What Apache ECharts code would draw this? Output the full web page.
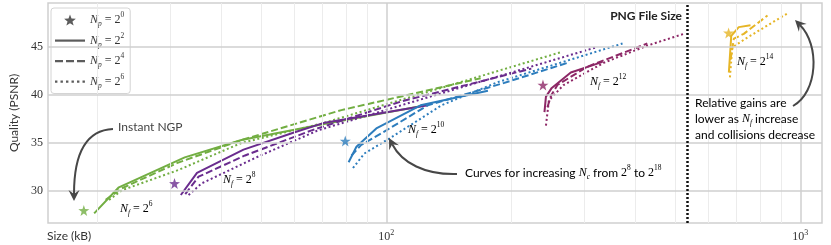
<!DOCTYPE html>
<html><head><meta charset="utf-8">
<script src="https://cdn.jsdelivr.net/npm/echarts@6/dist/echarts.min.js"></script>
<style>html,body{margin:0;padding:0;background:#fff}#c{width:831px;height:245px}</style>
</head><body><div id="c"></div>
<script>
// ---------------- data ----------------
const xTickValues = [100, 1000];
const yTickValues = [30, 35, 40, 45];
const xMinorGrid = [20, 30, 40, 50, 60, 70, 80, 90, 200, 300, 400, 500, 600, 700, 800, 900];
const pngFileSize = 533;
const nfExponents = [6, 8, 10, 12, 14];
const npExponents = [0, 2, 4, 6];

// Nf = 2^6
const nf6_np1  = [[18.6, 28.0]];
const nf6_np4  = [[19.7, 27.7], [22.6, 30.4], [32.6, 33.5], [44.7, 35.3], [69.7, 36.9], [121, 38.8]];
const nf6_np16 = [[21.0, 29.1], [23.0, 30.3], [31.2, 32.9], [44.7, 35.3], [77.9, 38.4], [169, 41.7]];
const nf6_np64 = [[21.4, 29.1], [23.0, 30.1], [31.5, 32.2], [44.7, 35.0], [69.7, 37.0], [264, 44.4]];
// Nf = 2^8
const nf8_np1  = [[30.8, 30.8]];
const nf8_np4  = [[31.9, 29.6], [34.9, 31.9], [45.2, 34.3], [60.1, 36.1], [71.0, 37.1], [126, 38.9]];
const nf8_np16 = [[32.7, 29.7], [35.2, 31.5], [45.6, 33.7], [66.0, 36.3], [108.7, 39.3], [224, 42.7]];
const nf8_np64 = [[33.3, 29.6], [35.8, 30.8], [49.1, 33.6], [68.4, 36.3], [121, 39.5], [321, 44.9]];
// Nf = 2^10
const nf10_np1  = [[79.6, 35.2]];
const nf10_np4  = [[81.1, 33.0], [84.7, 34.6], [94.6, 36.5], [121, 38.9], [176, 40.4]];
const nf10_np16 = [[82.4, 33.7], [87.0, 34.8], [100, 36.3], [126, 38.9], [192, 41.2], [274, 43.3]];
const nf10_np64 = [[83.1, 32.4], [88.5, 33.9], [103, 35.6], [136, 38.9], [186, 41.3], [372, 45.3]];
// Nf = 2^12
const nf12_np1  = [[239, 41.0]];
const nf12_np4  = [[241, 38.2], [243, 39.8], [251, 40.7], [279, 42.3], [333, 43.4]];
const nf12_np16 = [[245, 38.7], [250, 39.9], [259, 41.0], [306, 42.9], [427, 45.3]];
const nf12_np64 = [[243, 36.8], [247, 39.4], [268, 41.0], [335, 43.3], [428, 45.1], [523, 46.3]];
// Nf = 2^14
const nf14_np1  = [[671, 46.4]];
const nf14_np4  = [[672, 42.3], [681, 46.1], [710, 47.0], [758, 47.2]];
const nf14_np16 = [[678, 43.6], [691, 45.8], [730, 46.3], [833, 48.2]];
const nf14_np64 = [[676, 41.8], [685, 44.9], [737, 45.8], [929, 48.4]];

// ---------------- styles ----------------
const COLORS = ['#72ae42', '#6a2c8e', '#2d7dbd', '#8d2766', '#e6b526'];
const groups = [
  [nf6_np1, nf6_np4, nf6_np16, nf6_np64],
  [nf8_np1, nf8_np4, nf8_np16, nf8_np64],
  [nf10_np1, nf10_np4, nf10_np16, nf10_np64],
  [nf12_np1, nf12_np4, nf12_np16, nf12_np64],
  [nf14_np1, nf14_np4, nf14_np16, nf14_np64]
];
const LINE_TYPES = ['solid', [7, 3], [2, 2.6]];
const STAR = 'path://M50 0 L61.8 35.1 L98.6 35.5 L69 57.6 L79.4 92.7 L50 71.5 L20.6 92.7 L31 57.6 L1.4 35.5 L38.2 35.1 Z';
const SERIF = 'Liberation Serif';
const SANS = 'Lato';

// legend icons drawn in a 30x12 box
function starIcon() {
  let d = 'path://M0 0 M30 12 ';
  for (let i = 0; i < 10; i++) {
    const a = (-90 + i * 36) * Math.PI / 180, r = i % 2 ? 2.6 : 6.2;
    d += (i ? 'L' : 'M') + (15 + r * Math.cos(a)).toFixed(2) + ' ' + (6.6 + r * Math.sin(a)).toFixed(2) + ' ';
  }
  return d + 'Z';
}
function barIcon(segs) {
  let d = 'path://M0 0 M30 12 ';
  segs.forEach(s => { d += 'M' + s[0] + ' 5 h' + s[1] + ' v2.2 h-' + s[1] + ' Z '; });
  return d;
}
const LEGEND_ICONS = [
  starIcon(),
  barIcon([[0, 30]]),
  barIcon([[0, 8], [11, 8], [22, 8]]),
  barIcon([[0, 2.4], [5.5, 2.4], [11, 2.4], [16.5, 2.4], [22, 2.4], [27.5, 2.4]])
];

function mathRich(color, size) {
  size = size || 12;
  return {
    n: { fontFamily: SERIF, fontStyle: 'italic', fontSize: size, color: color, lineHeight: 16 },
    s: { fontFamily: SERIF, fontStyle: 'italic', fontSize: size * 0.62, color: color, verticalAlign: 'bottom' },
    e: { fontFamily: SERIF, fontSize: size, color: color, lineHeight: 16 },
    p: { fontFamily: SERIF, fontSize: size * 0.62, color: color, verticalAlign: 'top' },
    t: { fontFamily: SANS, fontSize: size, color: color, lineHeight: 16 }
  };
}

const series = [];
// grid lines (drawn through the axes)
series.push({
  type: 'line', data: [[100, 40]], symbol: 'none', lineStyle: { opacity: 0 }, silent: true, z: 1,
  markLine: {
    silent: true, symbol: 'none', animation: false, label: { show: false },
    data: xMinorGrid.map(v => ({ xAxis: v, lineStyle: { color: '#ececec', width: 1, type: 'solid' } }))
      .concat(xTickValues.map(v => ({ xAxis: v, lineStyle: { color: '#cfcfcf', width: 1.5, type: 'solid' } })))
      .concat(yTickValues.map(v => ({ yAxis: v, lineStyle: { color: '#cfcfcf', width: 1.5, type: 'solid' } })))
  }
});
// PNG file size line
series.push({
  type: 'line', data: [[100, 40]], symbol: 'none', lineStyle: { opacity: 0 }, silent: true, z: 2,
  markLine: {
    silent: true, symbol: 'none', animation: false, label: { show: false },
    data: [{ xAxis: pngFileSize, lineStyle: { color: '#111', width: 2.5, type: [2, 2] } }]
  }
});

groups.forEach((g, gi) => {
  const c = COLORS[gi];
  series.push({
    type: 'scatter', data: g[0], symbol: STAR, symbolSize: 11, itemStyle: { color: c }, z: 5, silent: true
  });
  for (let k = 1; k < 4; k++) {
    series.push({
      type: 'line', data: g[k], symbol: 'none', z: 3, silent: true,
      lineStyle: { color: c, width: 2, type: LINE_TYPES[k - 1] }, itemStyle: { color: c }
    });
  }
});

// legend proxies
const legendNames = npExponents.map(e => 'np' + e);
legendNames.forEach(n => {
  series.push({ name: n, type: 'scatter', data: [], itemStyle: { color: '#333' } });
});

// ---------------- annotations ----------------
function arrow(x1, y1, c1x, c1y, c2x, c2y, tx, ty) {
  const dx = tx - c2x, dy = ty - c2y, L = Math.hypot(dx, dy);
  const ux = dx / L, uy = dy / L, px = -uy, py = ux;
  const len = 11, hw = 5.5, notch = 7;
  const ex = tx - ux * notch, ey = ty - uy * notch;
  return [
    { type: 'bezierCurve', shape: { x1: x1, y1: y1, cpx1: c1x, cpy1: c1y, cpx2: c2x, cpy2: c2y, x2: ex, y2: ey },
      style: { stroke: '#474747', lineWidth: 2, fill: null }, z: 20 },
    { type: 'polygon', shape: { points: [[tx, ty], [tx - ux * len + px * hw, ty - uy * len + py * hw], [ex, ey], [tx - ux * len - px * hw, ty - uy * len - py * hw]] },
      style: { fill: '#474747' }, z: 21 }
  ];
}
const labelPos = [[120, 209], [223, 180], [408, 130], [590, 82], [737, 62]];
const graphic = [];
nfExponents.forEach((e, i) => {
  graphic.push({ type: 'text', x: labelPos[i][0], y: labelPos[i][1], z: 20,
    style: { text: '{n|N}{s|f}{e| = 2}{p|' + e + '}', rich: mathRich(COLORS[i]), textVerticalAlign: 'middle' } });
});
graphic.push({ type: 'text', x: 118, y: 127, z: 20,
  style: { text: 'Instant NGP', fontFamily: SANS, fontSize: 12, fill: '#444', textVerticalAlign: 'middle' } });
graphic.push({ type: 'text', x: 465, y: 173, z: 20,
  style: { text: '{t|Curves for increasing }{n|N}{s|c}{t| from }{e|2}{p|8}{t| to }{e|2}{p|18}', rich: mathRich('#444'), textVerticalAlign: 'middle' } });
graphic.push({ type: 'text', x: 695, y: 95, z: 20,
  style: { text: '{t|Relative gains are}\n{t|lower as }{n|N}{s|f}{t| increase}\n{t|and collisions decrease}', rich: mathRich('#444'), textVerticalAlign: 'top', lineHeight: 16 } });
graphic.push({ type: 'text', x: 682, y: 16, z: 20,
  style: { text: 'PNG File Size', fontFamily: SANS, fontWeight: 'bold', fontSize: 12, fill: '#222', textAlign: 'right', textVerticalAlign: 'middle' } });
graphic.push(...arrow(113, 129, 90, 130, 74, 148, 74, 201));
graphic.push(...arrow(457, 174, 425, 175, 402, 163, 389, 138));
graphic.push(...arrow(793, 106, 818, 92, 820, 45, 795, 20));

const chart = echarts.init(document.getElementById('c'), null, { renderer: 'canvas' });
chart.setOption({
  animation: false,
  backgroundColor: '#fff',
  grid: { left: 46, right: 9, top: 3, bottom: 22, show: true, borderColor: '#cfcfcf', borderWidth: 1.5, backgroundColor: 'transparent' },
  xAxis: {
    type: 'log', logBase: 10, min: 15.24, max: 1128,
    name: 'Size (kB)', nameLocation: 'start', nameGap: 0,
    nameTextStyle: { fontFamily: SANS, fontSize: 12, color: '#333', align: 'left', verticalAlign: 'top', padding: [7, 0, 0, -1] },
    axisLine: { show: false }, axisTick: { show: false }, splitLine: { show: false }, minorSplitLine: { show: false },
    axisLabel: {
      margin: 6,
      formatter: v => { const l = Math.log10(v); return Math.abs(l - Math.round(l)) < 1e-6 ? '{b|10}{s|' + Math.round(l) + '}' : ''; },
      rich: { b: { fontFamily: SERIF, fontSize: 12, color: '#333', lineHeight: 15 }, s: { fontFamily: SERIF, fontSize: 8, color: '#333', verticalAlign: 'top' } }
    }
  },
  yAxis: {
    type: 'value', min: 26.7, max: 49.5,
    name: 'Quality (PSNR)', nameLocation: 'middle', nameGap: 28,
    nameTextStyle: { fontFamily: SANS, fontSize: 12, color: '#333' },
    axisLine: { show: false }, axisTick: { show: false }, splitLine: { show: false },
    axisLabel: { customValues: yTickValues, fontFamily: SERIF, fontSize: 12, color: '#333', margin: 5 }
  },
  legend: {
    data: legendNames.map((n, i) => ({ name: n, icon: LEGEND_ICONS[i] })),
    orient: 'vertical', left: 51, top: 8,
    itemWidth: 30, itemHeight: 12, itemGap: 4.5, selectedMode: false,
    padding: [4, 6, 4, 4], backgroundColor: '#fff', borderColor: '#d4d4d4', borderWidth: 1, borderRadius: 3,
    formatter: name => '{n|N}{s|p}{e| = 2}{p|' + name.slice(2) + '}',
    textStyle: { rich: mathRich('#333') }
  },
  series: series,
  graphic: graphic
});
</script></body></html>
